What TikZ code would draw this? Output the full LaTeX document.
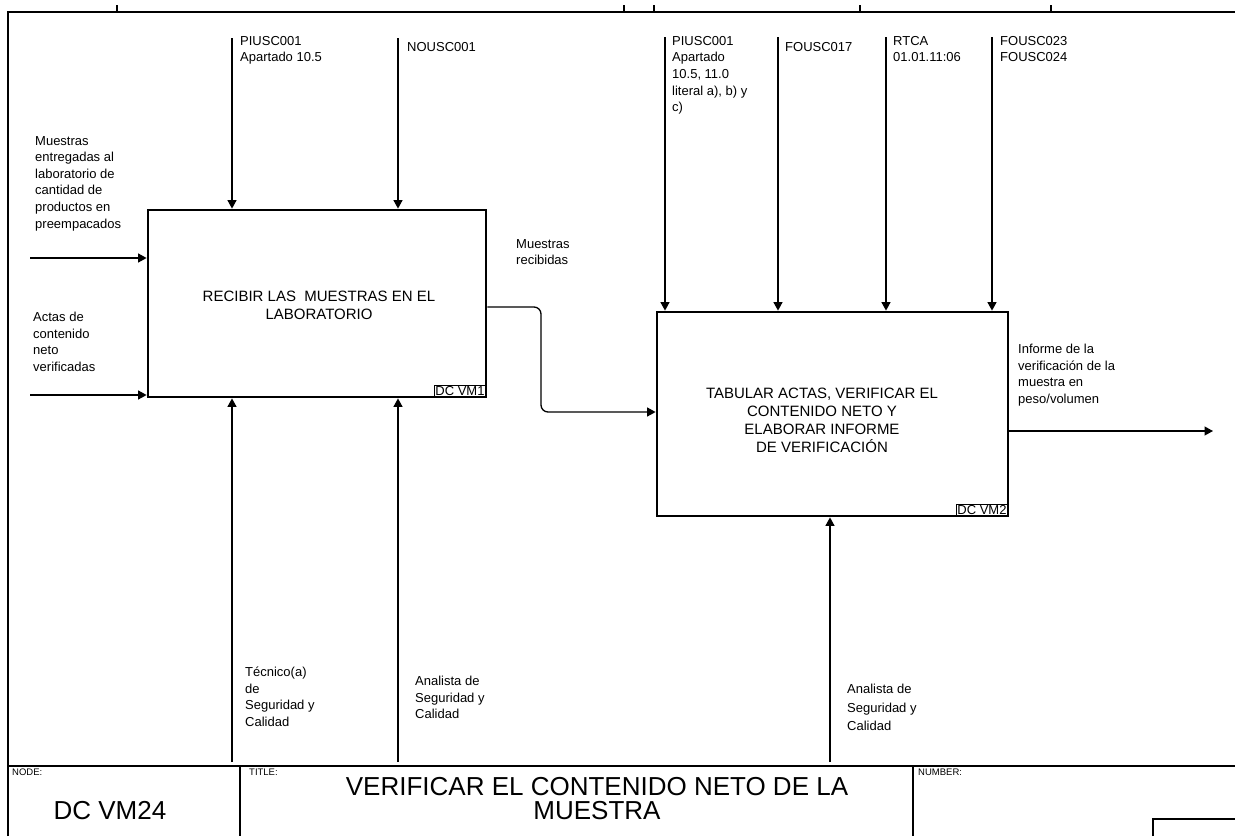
\documentclass[tikz,border=0pt]{standalone}
\usepackage{fontspec}
\setmainfont{Liberation Sans}
\usetikzlibrary{arrows.meta}
\begin{document}
\begin{tikzpicture}[x=1pt,y=-1pt,
  lbl/.style={anchor=north west, inner sep=0pt, align=left, font=\fontsize{13}{16.6}\selectfont},
  act/.style={draw, line width=2.8pt, inner sep=0pt},
  acttext/.style={inner sep=0pt, align=center, font=\fontsize{15}{18}\selectfont},
  tag/.style={draw, line width=0.6pt, inner sep=1.2pt, anchor=south east, font=\fontsize{13}{14}\selectfont},
  flow/.style={line width=1.3pt, -{Triangle[length=8.5pt,width=9pt]}},
  frameline/.style={line width=1.5pt},
  small/.style={anchor=north west, inner sep=0pt, font=\fontsize{9.5}{10}\selectfont},
  big/.style={inner sep=0pt, align=center, font=\fontsize{26}{24}\selectfont}]
\useasboundingbox (0,0) rectangle (1235,836);

% frame
\draw[frameline] (8,836) -- (8,12) -- (1235,12);
\foreach \t in {117,624,654,860,1051} \draw[line width=1.2pt] (\t,12) -- (\t,5);

% activity boxes
\node[act, minimum width=338pt, minimum height=187pt] (b1) at (317,303.5) {};
\node[acttext] (b1t) at (319,305) {RECIBIR LAS\ \ MUESTRAS EN EL\\LABORATORIO};
\node[tag] (t1) at ([xshift=-1.4pt,yshift=1.4pt]b1.south east) {DC VM1};

\node[act, minimum width=351pt, minimum height=204pt] (b2) at (832.5,414) {};
\node[acttext] (b2t) at (822,420) {TABULAR ACTAS, VERIFICAR EL\\CONTENIDO NETO Y\\ELABORAR INFORME\\DE VERIFICACIÓN};
\node[tag] (t2) at ([xshift=-1.4pt,yshift=1.4pt]b2.south east) {DC VM2};

% controls box 1
\coordinate (c11) at (232,38);
\coordinate (c12) at (398,38);
\draw[flow] (c11) -- (c11 |- b1.north);
\draw[flow] (c12) -- (c12 |- b1.north);
\node[lbl] (lc11) at (240,36) {PIUSC001\\Apartado 10.5};
\node[lbl] (lc12) at (407,42) {NOUSC001};

% controls box 2
\coordinate (c21) at (665,37);
\coordinate (c22) at (778,37);
\coordinate (c23) at (886,37);
\coordinate (c24) at (992,37);
\draw[flow] (c21) -- (c21 |- b2.north);
\draw[flow] (c22) -- (c22 |- b2.north);
\draw[flow] (c23) -- (c23 |- b2.north);
\draw[flow] (c24) -- (c24 |- b2.north);
\node[lbl] (lc21) at (672,36) {PIUSC001\\Apartado\\10.5, 11.0\\literal a), b) y\\c)};
\node[lbl] (lc22) at (785,42) {FOUSC017};
\node[lbl] (lc23) at (893,36) {RTCA\\01.01.11:06};
\node[lbl] (lc24) at (1000,36) {FOUSC023\\FOUSC024};

% inputs box 1
\coordinate (i11) at (30,258);
\coordinate (i12) at (30,395);
\draw[flow] (i11) -- (i11 -| b1.west);
\draw[flow] (i12) -- (i12 -| b1.west);
\node[lbl] (li11) at (35,136) {Muestras\\entregadas al\\laboratorio de\\cantidad de\\productos en\\preempacados};
\node[lbl] (li12) at (33,312) {Actas de\\contenido\\neto\\verificadas};

% mechanisms box 1
\coordinate (m11) at (232,762);
\coordinate (m12) at (398,762);
\draw[flow] (m11) -- (m11 |- b1.south);
\draw[flow] (m12) -- (m12 |- b1.south);
\node[lbl] (lm11) at (245,667) {Técnico(a)\\de\\Seguridad y\\Calidad};
\node[lbl] (lm12) at (415,676) {Analista de\\Seguridad y\\Calidad};

% mechanism box 2
\coordinate (m21) at (830,762);
\draw[flow] (m21) -- (m21 |- b2.south);
\node[lbl, font=\fontsize{13}{18.5}\selectfont] (lm21) at (847,684) {Analista de\\Seguridad y\\Calidad};

% box1 -> box2
\coordinate (o1) at (541,307);
\coordinate (o1b) at (541,412);
\draw[flow, rounded corners=7pt] (b1.east |- o1) -- (o1) -- (o1b) -- (b2.west |- o1b);
\node[lbl] (lo1) at (516,239) {Muestras\\recibidas};

% output box2
\coordinate (o2) at (1213,431);
\draw[flow] (b2.east |- o2) -- (o2);
\node[lbl] (lo2) at (1018,344) {Informe de la\\verificación de la\\muestra en\\peso/volumen};

% title block
\draw[frameline] (8,766) -- (1235,766);
\coordinate (s1) at (240,766);
\coordinate (s2) at (913,766);
\draw[frameline] (s1) -- (240,836);
\draw[frameline] (s2) -- (913,836);
\draw[line width=1.2pt] (1153,836) -- (1153,819) -- (1235,819);
\node[small] (nodelbl) at (12,769) {NODE:};
\node[small] (titlelbl) at (249,769) {TITLE:};
\node[small] (numlbl) at (918,769) {NUMBER:};
\node[big] (nodeid) at (110,811) {DC VM24};
\node[big] (title) at (597,799) {VERIFICAR EL CONTENIDO NETO DE LA\\MUESTRA};
\end{tikzpicture}
\end{document}
